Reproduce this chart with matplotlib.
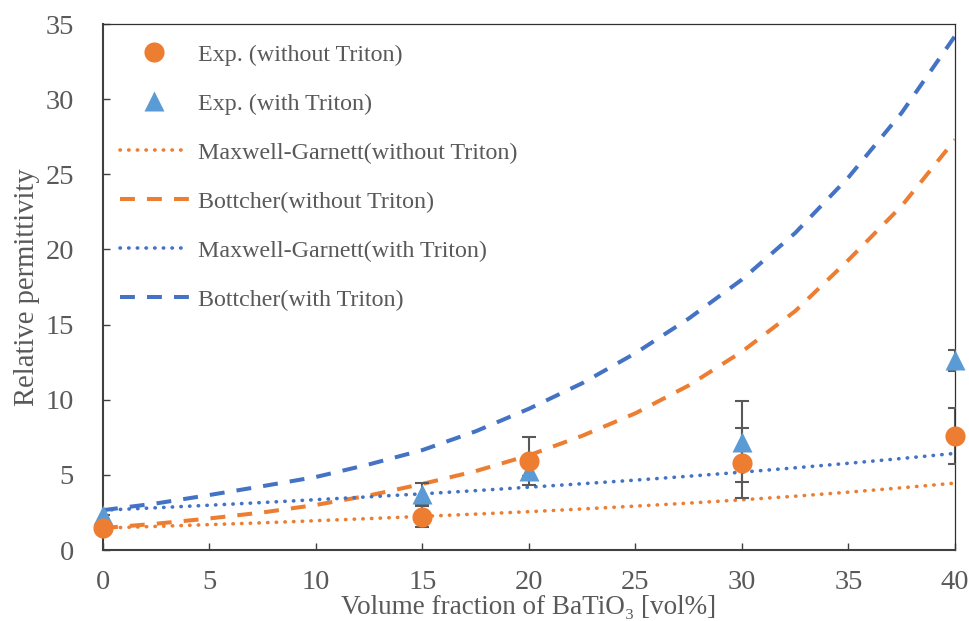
import matplotlib
matplotlib.use('Agg')
import matplotlib.pyplot as plt
import numpy as np

# measured permittivity
x_exp = [0, 15, 20, 30, 40]
eps_plain = [1.46, 2.2, 5.9, 5.8, 7.58]
err_plain = [0.0, 0.7, 1.6, 2.35, 1.85]
eps_triton = [2.3, 3.75, 5.25, 7.2, 12.64]
err_triton = [0.0, 0.7, 0.3, 2.7, 0.7]

# model curves (vol% of BaTiO3)
x_model = [0, 2.5, 5, 7.5, 10, 12.5, 15, 17.5, 20, 22.5, 25, 27.5, 30, 32.5, 35, 37.5, 40]
mg_plain = [1.46, 1.57, 1.69, 1.81, 1.95, 2.09, 2.24, 2.39, 2.55, 2.73, 2.92, 3.12, 3.34,
            3.58, 3.85, 4.14, 4.45]
bt_plain = [1.46, 1.75, 2.1, 2.5, 3.0, 3.63, 4.4, 5.25, 6.3, 7.6, 9.1, 10.95, 13.2,
            15.9, 19.3, 22.9, 27.3]
mg_triton = [2.65, 2.81, 2.98, 3.16, 3.35, 3.54, 3.74, 3.95, 4.18, 4.41, 4.65, 4.91, 5.18,
             5.47, 5.77, 6.09, 6.43]
bt_triton = [2.65, 3.1, 3.66, 4.25, 4.86, 5.7, 6.65, 7.9, 9.4, 11.1, 13.1, 15.4, 18.0,
             21.1, 24.8, 29.1, 34.2]

orange = '#ED7D31'
blue_pt = '#5B9BD5'
blue_ln = '#4472C4'
grey = '#595959'

plt.rcParams['font.family'] = ['Liberation Serif', 'DejaVu Serif']

fig = plt.figure(figsize=(9.7, 6.21), dpi=100)
ax = fig.add_axes([103 / 970, 71 / 621, 852 / 970, 526 / 621])

dotted = (0, (0.1, 2.3))
dashed = (0, (3.7, 3.0))

ax.plot(x_model, mg_plain, color=orange, lw=2.6, ls=dotted, dash_capstyle='round',
        label='Maxwell-Garnett(without Triton)', zorder=2)
ax.plot(x_model, bt_plain, color=orange, lw=2.9, ls=dashed,
        label='Bottcher(without Triton)', zorder=2)
ax.plot(x_model, mg_triton, color=blue_ln, lw=2.6, ls=dotted, dash_capstyle='round',
        label='Maxwell-Garnett(with Triton)', zorder=2)
ax.plot(x_model, bt_triton, color=blue_ln, lw=2.9, ls=dashed,
        label='Bottcher(with Triton)', zorder=2)

ax.errorbar(x_exp, eps_triton, yerr=err_triton, fmt='none', ecolor=grey, elinewidth=1.5,
            capsize=4.7, capthick=1.5, zorder=3)
ax.errorbar(x_exp, eps_plain, yerr=err_plain, fmt='none', ecolor=grey, elinewidth=1.5,
            capsize=4.7, capthick=1.5, zorder=3)
ax.plot(x_exp, eps_triton, ls='none', marker='^', ms=14.5, color=blue_pt, mec='none',
        label='Exp. (with Triton)', zorder=4, clip_on=False)
ax.plot(x_exp, eps_plain, ls='none', marker='o', ms=14.5, color=orange, mec='none',
        label='Exp. (without Triton)', zorder=5, clip_on=False)

ax.set_xlim(0, 40)
ax.set_ylim(0, 35)
ax.set_xticks(range(0, 41, 5))
ax.set_yticks(range(0, 36, 5))
ax.tick_params(direction='in', length=5, width=1, colors='#404040', labelcolor=grey,
               labelsize=20.5)
ax.tick_params(axis='y', pad=21)
ax.tick_params(axis='x', pad=14.5)
for side in ['left', 'bottom']:
    ax.spines[side].set_linewidth(1.5)
    ax.spines[side].set_color('#404040')
for side in ['top', 'right']:
    ax.spines[side].set_linewidth(0.9)
    ax.spines[side].set_color('#303030')

ax.set_xlabel('Volume fraction of BaTiO\u2083 [vol%]', fontsize=19.5, color=grey, labelpad=0)
ax.set_ylabel('Relative permittivity', fontsize=20.6, color=grey, labelpad=4)

handles, labels = ax.get_legend_handles_labels()
order = [5, 4, 0, 1, 2, 3]
leg = ax.legend([handles[i] for i in order], [labels[i] for i in order],
                loc='upper left', bbox_to_anchor=(0.02, 0.962), frameon=False,
                fontsize=17.3, handlelength=2.85, handletextpad=0.38, labelspacing=1.13,
                borderaxespad=0, borderpad=0)
for t in leg.get_texts():
    t.set_color(grey)

fig.savefig('out.png', dpi=100)
